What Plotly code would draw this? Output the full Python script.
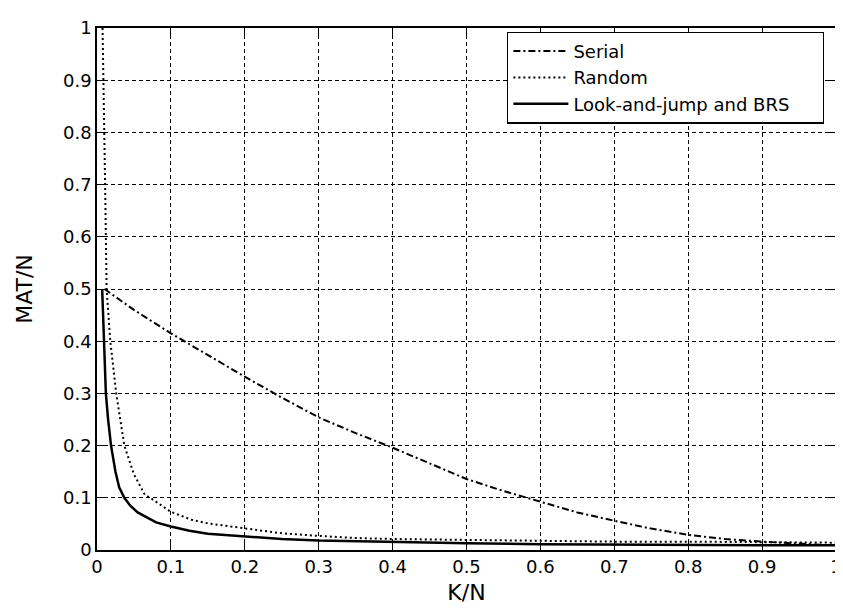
import plotly.graph_objects as go

# ---- data ----
serial_x = [0.01, 0.05, 0.1, 0.15, 0.2, 0.25, 0.3, 0.35, 0.4, 0.45, 0.5, 0.55,
            0.6, 0.65, 0.7, 0.75, 0.8, 0.85, 0.9, 0.95, 0.98]
serial_y = [0.50, 0.46, 0.415, 0.373, 0.332, 0.292, 0.254, 0.224, 0.196, 0.166,
            0.136, 0.113, 0.092, 0.072, 0.056, 0.041, 0.029, 0.021, 0.016, 0.012, 0.010]

random_x = [0.0075, 0.009, 0.010, 0.011, 0.012, 0.013, 0.018, 0.026, 0.037, 0.05,
            0.065, 0.072, 0.1, 0.128, 0.15, 0.2, 0.25, 0.3, 0.35, 0.4, 0.5, 0.6,
            0.7, 0.8, 0.9, 1.0]
random_y = [1.0, 0.9, 0.8, 0.7, 0.6, 0.5, 0.4, 0.3, 0.2, 0.145,
            0.105, 0.1, 0.073, 0.058, 0.051, 0.041, 0.032, 0.027, 0.023, 0.021, 0.019, 0.017,
            0.016, 0.016, 0.015, 0.014]

laj_x = [0.007, 0.008, 0.009, 0.010, 0.012, 0.015, 0.019, 0.025, 0.030, 0.037,
         0.045, 0.055, 0.065, 0.08, 0.1, 0.125, 0.15, 0.2, 0.25, 0.3, 0.4, 0.5,
         0.6, 0.7, 0.8, 0.9, 1.0]
laj_y = [0.50, 0.45, 0.40, 0.35, 0.30, 0.25, 0.20, 0.15, 0.12, 0.10,
         0.085, 0.072, 0.064, 0.053, 0.045, 0.037, 0.031, 0.026, 0.021, 0.018, 0.015, 0.013,
         0.011, 0.010, 0.010, 0.009, 0.009]

series_names = ["Serial", "Random", "Look-and-jump and BRS"]

tick_vals = [0, 0.1, 0.2, 0.3, 0.4, 0.5, 0.6, 0.7, 0.8, 0.9, 1]
tick_text = ["0", "0.1", "0.2", "0.3", "0.4", "0.5", "0.6", "0.7", "0.8", "0.9", "1"]

FONT = "DejaVu Sans"
PAD = "&nbsp;" * 5  # extra right padding inside the legend box

fig = go.Figure()
fig.add_trace(go.Scatter(x=serial_x, y=serial_y, mode="lines", name=series_names[0],
                         line=dict(color="black", width=2, dash="7px,3px,2px,3px")))
fig.add_trace(go.Scatter(x=random_x, y=random_y, mode="lines", name=series_names[1],
                         line=dict(color="black", width=2, dash="2px,3px")))
fig.add_trace(go.Scatter(x=laj_x, y=laj_y, mode="lines", name=series_names[2] + PAD,
                         line=dict(color="black", width=2.5)))

axis_common = dict(
    range=[0, 1], tickvals=tick_vals, ticktext=tick_text,
    showgrid=True, gridcolor="black", gridwidth=1, griddash="4px,3px",
    zeroline=False, showline=True, linecolor="black", linewidth=1.5,
    mirror="allticks", ticks="inside", ticklen=8, tickcolor="black", tickwidth=1.2,
    tickfont=dict(family=FONT, size=18, color="black"),
    ticklabeloverflow="allow",
)

fig.update_layout(
    width=843, height=608,
    margin=dict(l=89, r=9, t=15, b=66),
    paper_bgcolor="white", plot_bgcolor="white",
    font=dict(family=FONT, color="black"),
    xaxis=dict(**axis_common, title=dict(text="K/N", font=dict(family=FONT, size=22), standoff=8)),
    yaxis=dict(**axis_common, title=dict(text="MAT/N", font=dict(family=FONT, size=22), standoff=24)),
    showlegend=True,
    legend=dict(x=0.984, y=0.993, xanchor="right", yanchor="top",
                bgcolor="white", bordercolor="black", borderwidth=1.2,
                font=dict(family=FONT, size=18, color="black"),
                itemwidth=55, tracegroupgap=0),
)

fig.write_html("out.html")
